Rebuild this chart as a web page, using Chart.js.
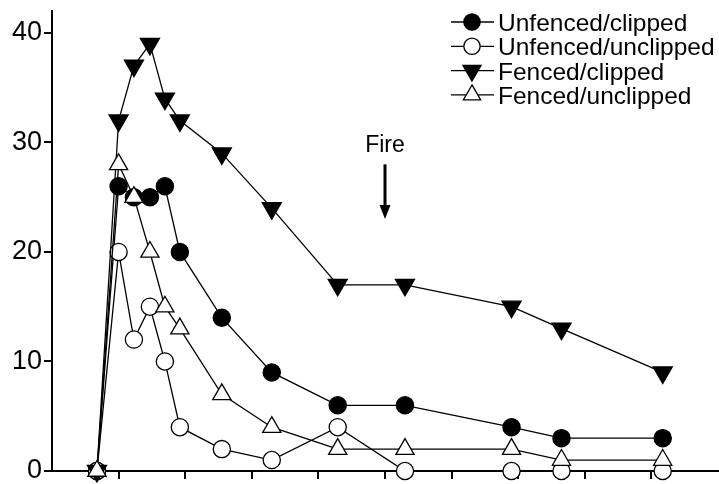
<!DOCTYPE html>
<html><head><meta charset="utf-8">
<script src="https://cdn.jsdelivr.net/npm/chart.js@4"></script>
<style>html,body{margin:0;padding:0;background:#fff}canvas{display:block}</style>
</head><body>
<canvas id="c" width="719" height="484"></canvas>
<script>
// ---- data ----
const sampleTimes = [0.675, 1.0, 1.23, 1.47, 1.695, 1.92, 2.55, 3.3, 4.29, 5.3, 6.9, 7.65, 9.17];
const unfencedClipped   = [0, 26, 25, 25, 26, 20, 14, 9, 6, 6, 4, 3, 3];
const unfencedUnclipped = [0, 20, 12, 15, 10, 4, 2, 1, 4, 0, 0, 0, 0];
const fencedClipped     = [0, 32, 37, 39, 34, 32, 29, 24, 17, 17, 15, 13, 9];
const fencedUnclipped   = [0, 28, 25, 20, 15, 13, 7, 4, 2, 2, 2, 1, 1];
const seriesLabels = ['Unfenced/clipped', 'Unfenced/unclipped', 'Fenced/clipped', 'Fenced/unclipped'];
const xTickValues = [1, 2, 3, 4, 5, 6, 7, 8, 9];
const yTickValues = [0, 10, 20, 30, 40];
const fireTime = 5;
const fireLabel = 'Fire';

const FONT = '"Liberation Sans", Arial, Helvetica, sans-serif';
const pts = arr => arr.map((v, i) => ({x: sampleTimes[i], y: v}));

function makeDs(label, values, style, fill, radius, rotation, order) {
  return {
    label, data: pts(values), order,
    borderColor: '#000', borderWidth: 1.3, tension: 0, fill: false,
    pointStyle: style, pointRotation: rotation, pointRadius: radius,
    pointBackgroundColor: fill, pointBorderColor: '#000', pointBorderWidth: 1.3,
    pointHoverRadius: radius, clip: false
  };
}

function drawMarker(ctx, style, rotation, r, fill, x, y) {
  ctx.save();
  ctx.fillStyle = fill; ctx.strokeStyle = '#000'; ctx.lineWidth = 1.3;
  ctx.beginPath();
  if (style === 'circle') {
    ctx.arc(x, y, r, 0, Math.PI * 2);
  } else {
    let a = rotation * Math.PI / 180;
    for (let k = 0; k < 3; k++) {
      const px = x + Math.sin(a) * r, py = y - Math.cos(a) * r;
      if (k === 0) ctx.moveTo(px, py); else ctx.lineTo(px, py);
      a += 2 * Math.PI / 3;
    }
    ctx.closePath();
  }
  ctx.fill(); ctx.stroke();
  ctx.restore();
}

const legendPlugin = {
  id: 'lineMarkerLegend',
  afterDraw(chart) {
    const ctx = chart.ctx;
    chart.data.datasets.forEach((ds, i) => {
      const y = 22 + i * 24.3;
      ctx.save();
      ctx.strokeStyle = '#000'; ctx.lineWidth = 1.3;
      ctx.beginPath(); ctx.moveTo(451, y); ctx.lineTo(494, y); ctx.stroke();
      drawMarker(ctx, ds.pointStyle, ds.pointRotation, ds.pointRadius * 0.95, ds.pointBackgroundColor, 472, y);
      ctx.fillStyle = '#000';
      ctx.font = '24.5px ' + FONT;
      ctx.textBaseline = 'alphabetic';
      ctx.textAlign = 'left';
      ctx.fillText(ds.label, 498, y + 9);
      ctx.restore();
    });
  }
};

const firePlugin = {
  id: 'fireArrow',
  afterDraw(chart) {
    const ctx = chart.ctx, xs = chart.scales.x, ys = chart.scales.y;
    const x = xs.getPixelForValue(fireTime);
    const textY = ys.getPixelForValue(29.1);
    const top = ys.getPixelForValue(28.0);
    const tip = ys.getPixelForValue(23.0);
    ctx.save();
    ctx.fillStyle = '#000';
    ctx.font = '23px ' + FONT;
    ctx.textAlign = 'center';
    ctx.textBaseline = 'alphabetic';
    ctx.fillText(fireLabel, x, textY);
    ctx.strokeStyle = '#000'; ctx.lineWidth = 3;
    ctx.beginPath(); ctx.moveTo(x, top); ctx.lineTo(x, tip - 10); ctx.stroke();
    ctx.beginPath(); ctx.moveTo(x - 5.5, tip - 14); ctx.lineTo(x + 5.5, tip - 14); ctx.lineTo(x, tip); ctx.closePath(); ctx.fill();
    ctx.restore();
  }
};

new Chart(document.getElementById('c'), {
  type: 'line',
  data: {
    datasets: [
      makeDs(seriesLabels[0], unfencedClipped, 'circle', '#000', 8.6, 0, 3),
      makeDs(seriesLabels[1], unfencedUnclipped, 'circle', '#fff', 8.6, 0, 2),
      makeDs(seriesLabels[2], fencedClipped, 'triangle', '#000', 11, 180, 1),
      makeDs(seriesLabels[3], fencedUnclipped, 'triangle', '#fff', 10.5, 0, 0)
    ]
  },
  options: {
    responsive: false, animation: false, devicePixelRatio: 1,
    layout: {autoPadding: false, padding: {top: 11, right: 1, bottom: 0, left: 0}},
    plugins: {legend: {display: false}, tooltip: {enabled: false}},
    events: [],
    scales: {
      x: {
        type: 'linear', min: 0, max: 10,
        afterBuildTicks: s => { s.ticks = xTickValues.map(v => ({value: v})); },
        afterFit: s => { s.height = 13; s.paddingLeft = 0; s.paddingRight = 0; },
        ticks: {display: false},
        grid: {drawOnChartArea: false, drawTicks: true, tickLength: 8, color: '#000', lineWidth: 2},
        border: {color: '#000', width: 2}
      },
      y: {
        type: 'linear', min: 0, max: 42,
        afterBuildTicks: s => { s.ticks = yTickValues.map(v => ({value: v})); },
        afterFit: s => { s.width = 52; s.paddingTop = 0; s.paddingBottom = 0; },
        ticks: {color: '#000', font: {size: 27, family: FONT}, padding: 2},
        grid: {drawOnChartArea: false, drawTicks: true, tickLength: 8, color: '#000', lineWidth: 2},
        border: {color: '#000', width: 2}
      }
    }
  },
  plugins: [legendPlugin, firePlugin]
});
</script>
</body></html>
